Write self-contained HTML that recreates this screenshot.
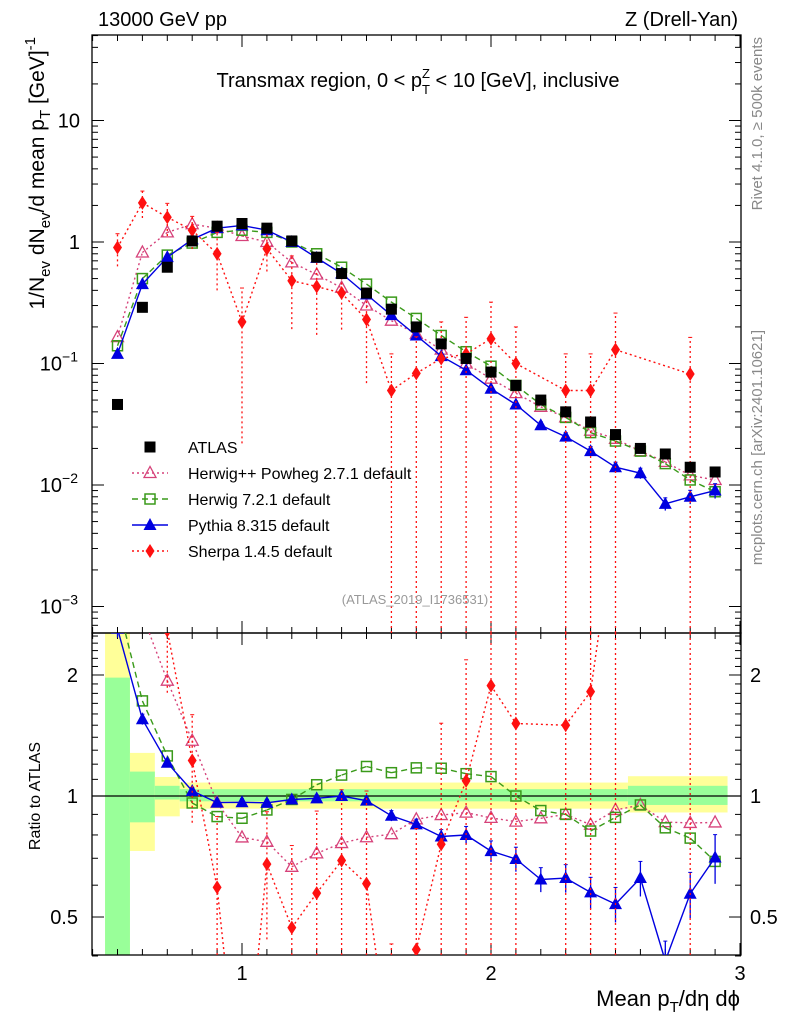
<!DOCTYPE html>
<html><head><meta charset="utf-8"><style>
html,body{margin:0;padding:0;background:#fff;width:786px;height:1024px;overflow:hidden;}
svg{display:block;font-family:"Liberation Sans",sans-serif;overflow:hidden;}
</style></head><body>
<svg id="c" width="786" height="1024" viewBox="0 0 786 1024"></svg>
<script>
const xs=[0.5,0.6,0.7,0.8,0.9,1.0,1.1,1.2,1.3,1.4,1.5,1.6,1.7,1.8,1.9,2.0,2.1,2.2,2.3,2.4,2.5,2.6,2.7,2.8,2.9];
const atlas=[0.046,0.29,0.62,1.02,1.35,1.42,1.3,1.02,0.75,0.55,0.38,0.28,0.2,0.145,0.11,0.085,0.066,0.05,0.04,0.033,0.026,0.02,0.018,0.014,0.0128];
const herwigpp=[0.165,0.82,1.2,1.4,1.3,1.12,1.0,0.68,0.54,0.42,0.3,0.225,0.175,0.13,0.1,0.075,0.057,0.044,0.036,0.028,0.024,0.019,0.0155,0.012,0.011];
const herwig7=[0.14,0.5,0.78,0.98,1.2,1.25,1.2,1.0,0.8,0.62,0.45,0.32,0.235,0.17,0.125,0.095,0.066,0.046,0.036,0.027,0.023,0.019,0.015,0.011,0.0088];
const pythia=[0.12,0.45,0.75,1.05,1.3,1.37,1.25,1.0,0.74,0.55,0.37,0.25,0.17,0.115,0.088,0.062,0.046,0.031,0.025,0.019,0.014,0.0125,0.007,0.008,0.009];
const pythiaErr=[0.05,0.03,0.02,0.02,0.02,0.02,0.02,0.02,0.02,0.02,0.02,0.03,0.03,0.04,0.05,0.06,0.07,0.07,0.08,0.09,0.1,0.1,0.12,0.13,0.14];
const sherpaX=[0.5,0.6,0.7,0.8,0.9,1.0,1.1,1.2,1.3,1.4,1.5,1.6,1.7,1.8,1.9,2.0,2.1,2.3,2.4,2.5,2.8];
const sherpa=[0.9,2.1,1.6,1.25,0.8,0.22,0.88,0.48,0.43,0.38,0.23,0.06,0.083,0.11,0.12,0.16,0.1,0.06,0.06,0.13,0.082];
const sherpaErrRel=[0.3,0.25,0.3,0.3,0.5,0.9,0.35,0.6,0.6,0.5,0.7,1,1,1,1,1,1,1,1,1,1];
const bandEdges=[0.45,0.55,0.65,0.75,2.55,2.95];
const greenLo=[0.4,0.86,0.98,0.97,0.95];
const greenHi=[1.97,1.15,1.06,1.04,1.06];
const yellowLo=[0.4,0.73,0.89,0.93,0.91];
const yellowHi=[2.54,1.28,1.115,1.08,1.12];

const svg=document.getElementById('c');const NS='http://www.w3.org/2000/svg';
function el(t,a,p){const e=document.createElementNS(NS,t);for(const k in a)e.setAttribute(k,a[k]);(p||svg).appendChild(e);return e;}
const L=92,R=741,T=35,MB=633,RB=955;
const X=v=>92.6+(v-0.4)*249;
const Y=v=>242-121.5*Math.log10(v);
const YR=v=>796-402*Math.log10(v);

const defs=el('defs',{});
const c1=el('clipPath',{id:'cm'},defs);el('rect',{x:L,y:T,width:R-L,height:MB-T},c1);
const c2=el('clipPath',{id:'cr'},defs);el('rect',{x:L,y:MB,width:R-L,height:RB-MB},c2);

const gb=el('g',{'clip-path':'url(#cr)'});

for(let i=0;i<greenLo.length;i++){
 const x0=X(bandEdges[i]),x1=X(bandEdges[i+1]);
 const yh=Math.max(YR(yellowHi[i]),MB),yl=Math.min(YR(yellowLo[i]),RB);
 const gh=Math.max(YR(greenHi[i]),MB),gl=Math.min(YR(greenLo[i]),RB);
 el('rect',{x:x0,y:yh,width:x1-x0,height:yl-yh,fill:'#ffff99'},gb);
 el('rect',{x:x0,y:gh,width:x1-x0,height:gl-gh,fill:'#99ff99'},gb);
}
el('line',{x1:L,x2:R,y1:YR(1),y2:YR(1),stroke:'#000','stroke-width':1.3});

el('rect',{x:L,y:T,width:R-L,height:MB-T,fill:'none',stroke:'#000','stroke-width':1.3,});
el('rect',{x:L,y:MB,width:R-L,height:RB-MB,fill:'none',stroke:'#000','stroke-width':1.3,});

for(let k=4;k<=30;k++){const v=k/10,x=X(v);if(x<L||x>R)continue;const maj=k%10==0;const h=maj?12:6;
 for(const [yb,dir] of [[MB,-1],[T,1],[RB,-1],[MB,1]]) el('line',{x1:x,x2:x,y1:yb,y2:yb+dir*h,stroke:'#000','stroke-width':1});}
[1,2,3].forEach(v=>{const t=el('text',{x:X(v),y:980,'font-size':20,'text-anchor':'middle'});t.textContent=v;});
for(let d=-4;d<=1;d++)for(let m=1;m<10;m++){const v=m*Math.pow(10,d);const y=Y(v);if(y<T||y>MB)continue;const h=m==1?12:6;
 el('line',{x1:L,x2:L+h,y1:y,y2:y,stroke:'#000'});el('line',{x1:R,x2:R-h,y1:y,y2:y,stroke:'#000'});}
[[10,'10'],[1,'1']].forEach(([v,s])=>{const t=el('text',{x:80,y:Y(v)+7,'font-size':20,'text-anchor':'end'});t.textContent=s;});
[-1,-2,-3].forEach(e=>{const t=el('text',{x:78,y:Y(Math.pow(10,e))+7,'font-size':20,'text-anchor':'end'});t.innerHTML='10<tspan dy="-9" font-size="14">'+e.toString().replace('-','\u2212')+'</tspan>';});
[0.4,0.5,0.6,0.7,0.8,0.9,1,2].forEach(v=>{const y=YR(v);const maj=(v==0.5||v==1||v==2);const h=maj?12:6;
 el('line',{x1:L,x2:L+h,y1:y,y2:y,stroke:'#000'});el('line',{x1:R,x2:R-h,y1:y,y2:y,stroke:'#000'});});
for(let k=11;k<=25;k++){const v=k/10;if(v==2)continue;const y=YR(v);el('line',{x1:L,x2:L+6,y1:y,y2:y,stroke:'#000'});el('line',{x1:R,x2:R-6,y1:y,y2:y,stroke:'#000'});}
[[2,'2'],[1,'1'],[0.5,'0.5']].forEach(([v,s])=>{
 let t=el('text',{x:78,y:YR(v)+7,'font-size':20,'text-anchor':'end'});t.textContent=s;
 t=el('text',{x:750,y:YR(v)+7,'font-size':20});t.textContent=s;});

function marker(g,type,x,y,col){
 if(type=='sq')el('rect',{x:x-5.5,y:y-5.5,width:11,height:11,fill:col},g);
 else if(type=='osq')el('rect',{x:x-5,y:y-5,width:10,height:10,fill:'none',stroke:col,'stroke-width':1.5},g);
 else if(type=='tri')el('polygon',{points:`${x},${y-7} ${x-6.5},${y+5} ${x+6.5},${y+5}`,fill:col},g);
 else if(type=='otri')el('polygon',{points:`${x},${y-6.5} ${x-6},${y+4.5} ${x+6},${y+4.5}`,fill:'none',stroke:col,'stroke-width':1.3},g);
 else if(type=='dia')el('polygon',{points:`${x},${y-7} ${x+4.5},${y} ${x},${y+7} ${x-4.5},${y}`,fill:col},g);
}
// clip a segment to y-range [y0,y1]; returns null or [xa,ya,xb,yb]
function clipSeg(xa,ya,xb,yb,y0,y1){
 let t0=0,t1=1;const dy=yb-ya;
 if(Math.abs(dy)<1e-9){if(ya<y0||ya>y1)return null;}
 else{let ta=(y0-ya)/dy,tb=(y1-ya)/dy;if(ta>tb)[ta,tb]=[tb,ta];t0=Math.max(t0,ta);t1=Math.min(t1,tb);if(t0>t1)return null;}
 return [xa+(xb-xa)*t0,ya+dy*t0,xa+(xb-xa)*t1,ya+dy*t1];
}
const series=[
 {name:'herwigpp',x:xs,v:herwigpp,col:'#d6427a',m:'otri',dash:'2,3',err:null},
 {name:'herwig7',x:xs,v:herwig7,col:'#3a9a1a',m:'osq',dash:'6,4',err:null},
 {name:'pythia',x:xs,v:pythia,col:'#0000e0',m:'tri',dash:null,err:pythiaErr},
 {name:'sherpa',x:sherpaX,v:sherpa,col:'#ff1010',m:'dia',dash:'2,3',err:sherpaErrRel},
];
function draw(s,ratio){
 const g=el('g',{'clip-path':ratio?'url(#cr)':'url(#cm)'});
 
 
 const yf=ratio?YR:Y;const y0=ratio?MB:T,y1=ratio?RB:MB;
 const vals=s.v.map((v,i)=>ratio?v/atlas[xs.indexOf(s.x[i])]:v);
 const pts=vals.map((v,i)=>[X(s.x[i]),yf(v)]);
 let d='';
 for(let i=0;i<pts.length-1;i++){const c=clipSeg(pts[i][0],pts[i][1],pts[i+1][0],pts[i+1][1],y0,y1);
  if(c)d+=`M${c[0].toFixed(1)},${c[1].toFixed(1)}L${c[2].toFixed(1)},${c[3].toFixed(1)}`;}
 if(d){const pl=el('path',{d:d,fill:'none',stroke:s.col,'stroke-width':1.4},g);if(s.dash)pl.setAttribute('stroke-dasharray',s.dash);}
 vals.forEach((v,i)=>{const x=X(s.x[i]);const yv=yf(v);
  if(s.err){const e=s.err[i];const lo=Math.max(v*(1-e),1e-6),hi=v*(1+e);
   const ya=Math.min(yf(lo),y1),yb=Math.max(yf(hi),y0);
   if(ya>yb){const eb=el('line',{x1:x,x2:x,y1:ya,y2:yb,stroke:s.col,'stroke-width':1.3},g);
    if(s.dash)eb.setAttribute('stroke-dasharray',s.dash);
    if(yf(hi)>=y0)el('line',{x1:x-2,x2:x+2,y1:yb,y2:yb,stroke:s.col},g);}}
  if(yv>y0-8&&yv<y1+8)marker(g,s.m,x,yv,s.col);});
}
series.forEach(s=>{draw(s,false);draw(s,true);});
const ga=el('g',{'clip-path':'url(#cm)'});
atlas.forEach((v,i)=>marker(ga,'sq',X(xs[i]),Y(v),'#000'));

const leg=[['sq','#000','ATLAS',null],['otri','#d6427a','Herwig++ Powheg 2.7.1 default','2,3'],['osq','#3a9a1a','Herwig 7.2.1 default','6,4'],['tri','#0000e0','Pythia 8.315 default',null],['dia','#ff1010','Sherpa 1.4.5 default','2,3']];
leg.forEach((l,i)=>{const y=447+i*26;const g=el('g',{});
 if(i>0){const ln=el('line',{x1:132,x2:168,y1:y,y2:y,stroke:l[1],'stroke-width':1.4},g);if(l[3])ln.setAttribute('stroke-dasharray',l[3]);}
 marker(g,l[0],150,y,l[1]);const t=el('text',{x:188,y:y+6,'font-size':16},g);t.textContent=l[2];});

function txt(x,y,s,a,name){const t=el('text',Object.assign({x,y},a));t.innerHTML=s;return t;}
txt(98,26,'13000 GeV pp',{'font-size':20},'beam-label');
txt(738,26,'Z (Drell-Yan)',{'font-size':20,'text-anchor':'end'},'process-label');
txt(418,87,'Transmax region, 0 &lt; p<tspan dy="7" font-size="13">T</tspan><tspan dy="-16" dx="-8" font-size="13">Z</tspan><tspan dy="9"> &lt; 10 [GeV], inclusive</tspan>',{'font-size':20,'text-anchor':'middle'},'plot-title');
txt(415,604,'(ATLAS_2019_I1736531)',{'font-size':13,fill:'#999','text-anchor':'middle'},'analysis-label');
txt(740,1006,'Mean p<tspan dy="6" font-size="15">T</tspan><tspan dy="-6">/dη dϕ</tspan>',{'font-size':22,'text-anchor':'end'},'x-axis-title');
txt(0,0,'1/N<tspan dy="6" font-size="15">ev</tspan><tspan dy="-6"> dN</tspan><tspan dy="6" font-size="15">ev</tspan><tspan dy="-6">/d mean p</tspan><tspan dy="6" font-size="15">T</tspan><tspan dy="-6"> [GeV]</tspan><tspan dy="-9" font-size="15">-1</tspan>',{'font-size':21,'text-anchor':'end',transform:'translate(44,37) rotate(-90)'},'y-axis-title');
txt(0,0,'Ratio to ATLAS',{'font-size':16,'text-anchor':'middle',transform:'translate(40,796) rotate(-90)'},'ratio-y-axis-title');
txt(0,0,'Rivet 4.1.0, ≥ 500k events',{'font-size':15,fill:'#888','text-anchor':'end',transform:'translate(762,37) rotate(-90)'},'rivet-label');
txt(0,0,'mcplots.cern.ch [arXiv:2401.10621]',{'font-size':15,fill:'#888','text-anchor':'end',transform:'translate(762,330) rotate(-90)'},'mcplots-label');
</script>
</body></html>
